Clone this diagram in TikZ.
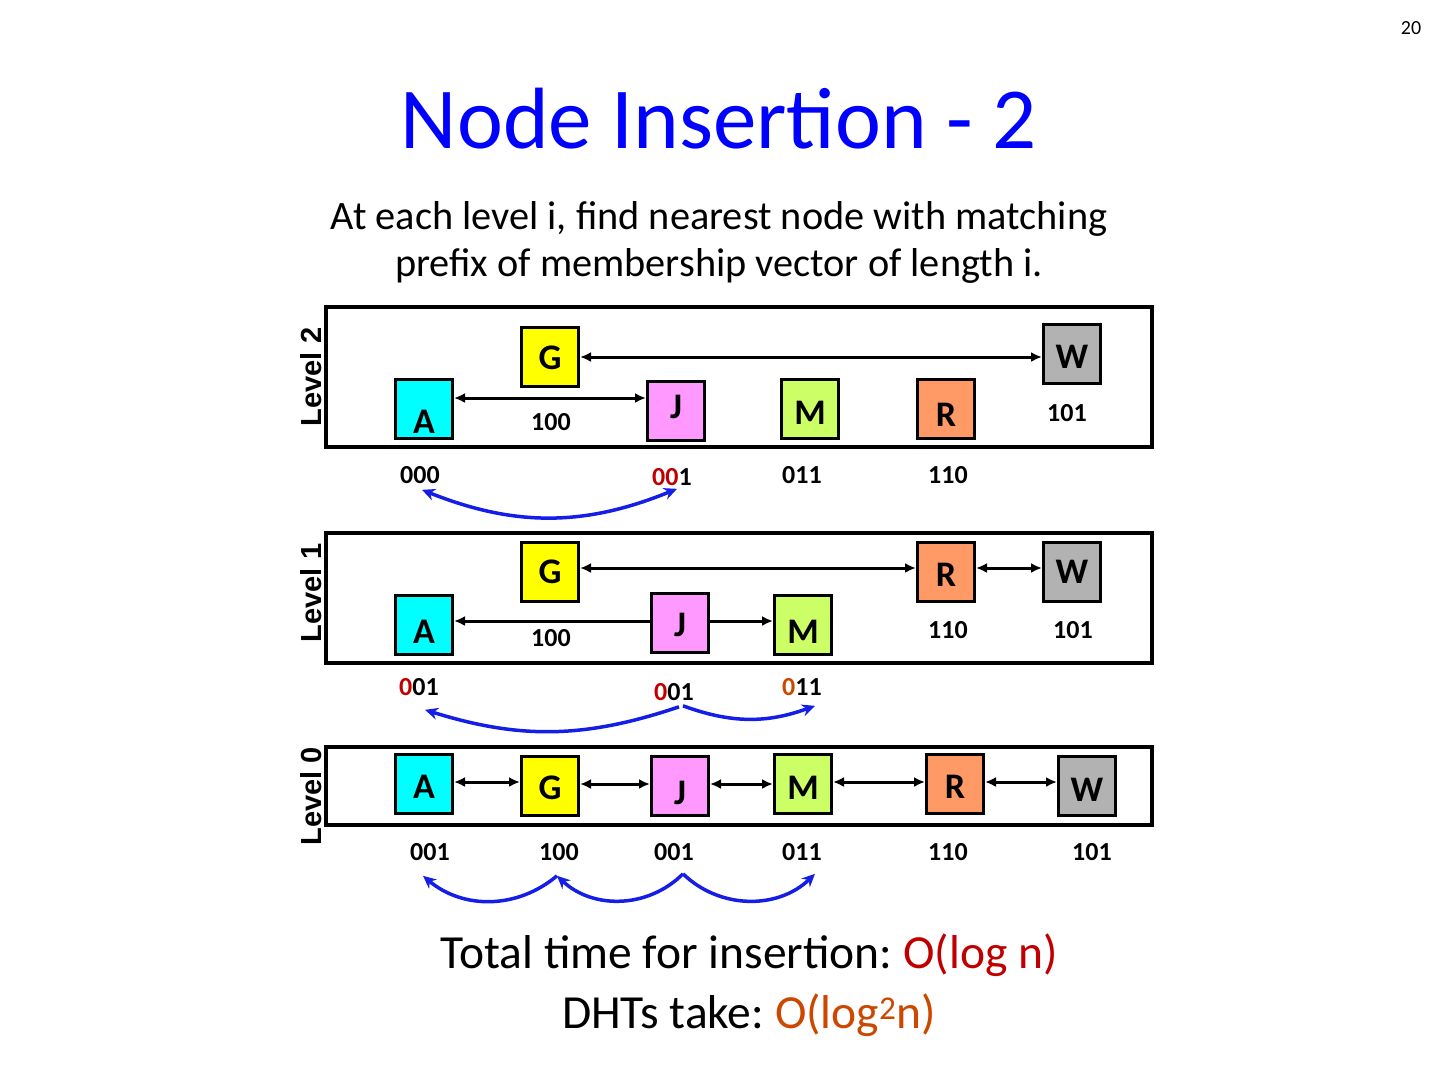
\documentclass[tikz,border=0pt]{standalone}
\usepackage{fontspec}
\setmainfont{Carlito}
\newfontfamily\arialfont{Liberation Sans}
\usepackage{xcolor}
\usetikzlibrary{arrows.meta, positioning}

\definecolor{titleblue}{RGB}{0,0,255}
\definecolor{hopblue}{RGB}{20,30,230}
\definecolor{vecred}{RGB}{192,0,0}
\definecolor{vecorange}{RGB}{204,72,0}
\definecolor{peerA}{RGB}{0,255,255}
\definecolor{peerG}{RGB}{255,255,0}
\definecolor{peerJ}{RGB}{255,153,255}
\definecolor{peerM}{RGB}{204,255,102}
\definecolor{peerR}{RGB}{255,153,102}
\definecolor{peerW}{RGB}{178,178,178}

\begin{document}
\begin{tikzpicture}[
  x=1pt, y=-1pt,
  >={Stealth[length=13pt, width=12pt]},
  peer/.style={rectangle, draw=black, line width=3pt, minimum width=57pt, minimum height=59pt, inner sep=0pt},
  peerlbl/.style={font=\fontsize{36}{38}\selectfont\bfseries, inner sep=0pt},
  vec/.style={font=\fontsize{26}{28}\selectfont\bfseries, inner sep=1pt},
  lvlbox/.style={draw=black, line width=3.2pt},
  lvlname/.style={rotate=90, font=\fontsize{29}{30}\selectfont\arialfont\bfseries},
  link/.style={{Latex[length=11pt, width=10pt]}-{Latex[length=11pt, width=10pt]}, line width=3pt},
  onelink/.style={-{Latex[length=11pt, width=10pt]}, line width=3pt},
  hop/.style={line width=3.5pt, hopblue}
]
\fill[white] (0,0) rectangle (1440,1080);

%  : -- Title and caption  : --
\node[font=\fontsize{20}{22}\selectfont, anchor=base] (pageno) at (1411,34) {20};
\node[font=\fontsize{87}{90}\selectfont, text=titleblue, anchor=base] (title) at (719,148) {Node Insertion - 2};
\node[align=center, font=\fontsize{40.3}{47}\selectfont] (caption) at (719,242) {At each level i, find nearest node with matching\\prefix of membership vector of length i.};

%  : -- Level 2  : --
\draw[lvlbox] (326,307) rectangle (1152,447);
\node[lvlname] (lvl2) at (311,377) {Level 2};
\foreach \n/\x/\y/\c/\d in {A/424/409/peerA/-13pt, G/550/357/peerG/-1pt, J/676/411/peerJ/4pt, M/810/409/peerM/-4pt, R/946/409/peerR/-6pt, W/1072/354/peerW/-3pt} {
  \node[peer, fill=\c, label={[peerlbl, yshift=\d]center:\n}] (\n2) at (\x,\y) {};
}
\draw[link] (G2.east) -- (G2.east -| W2.west);
\draw[link] ([yshift=11pt]A2.east) -- ([yshift=11pt]A2.east -| J2.west);
\node[vec] (G2v) at (551,422) {100};
\node[vec] (W2v) at (1067,413) {101};
\node[vec] (A2v) at (420,475) {000};
\node[vec] (J2v) at (672,477) {\textcolor{vecred}{00}1};
\node[vec] (M2v) at (802,475) {011};
\node[vec] (R2v) at (948,475) {110};
\draw[hop, <->] ([xshift=5pt, yshift=-2pt]J2v.south) to[bend left=22] ([xshift=2pt, yshift=-5pt]A2v.south);

%  : -- Level 1  : --
\draw[lvlbox] (326,533) rectangle (1152,663);
\node[lvlname] (lvl1) at (311,593) {Level 1};
\foreach \n/\x/\y/\c/\d in {A/424/625/peerA/-7pt, G/550/572/peerG/0pt, J/680/623/peerJ/-2pt, M/803/625/peerM/-7pt, R/946/572/peerR/-3pt, W/1072/572/peerW/0pt} {
  \node[peer, fill=\c, label={[peerlbl, yshift=\d]center:\n}] (\n1) at (\x,\y) {};
}
\draw[link] ([yshift=4pt]G1.east) -- ([yshift=4pt]G1.east -| R1.west);
\draw[link] ([yshift=4pt]R1.east) -- ([yshift=4pt]R1.east -| W1.west);
\draw[onelink] ([yshift=2pt]J1.west) -- ([yshift=2pt]J1.west -| A1.east);
\draw[onelink] ([yshift=2pt]J1.east) -- ([yshift=2pt]J1.east -| M1.west);
\node[vec] (G1v) at (551,638) {100};
\node[vec] (R1v) at (948,630) {110};
\node[vec] (W1v) at (1073,630) {101};
\node[vec] (A1v) at (419,687) {\textcolor{vecred}{0}01};
\node[vec] (J1v) at (674,692) {\textcolor{vecred}{0}01};
\node[vec] (M1v) at (802,687) {\textcolor{vecorange}{0}11};
\draw[hop, ->] ([xshift=5pt, yshift=-5pt]J1v.south) to[bend left=18] ([xshift=6pt, yshift=-13pt]A1v.south);
\draw[hop, ->] ([xshift=9pt, yshift=-4pt]J1v.south) to[bend right=20] ([xshift=13pt, yshift=-9pt]M1v.south);

%  : -- Level 0  : --
\draw[lvlbox] (326,747) rectangle (1152,825);
\node[lvlname] (lvl0) at (311,796) {Level 0};
\foreach \n/\x/\y/\c/\d in {A/424/784/peerA/-3pt, G/550/786/peerG/-2pt, J/680/786/peerJ/-7pt, M/803/784/peerM/-4pt, R/955/784/peerR/-3pt, W/1087/786/peerW/-4pt} {
  \node[peer, fill=\c, label={[peerlbl, yshift=\d]center:\n}] (\n0) at (\x,\y) {};
}
\foreach \a/\b in {A/G, G/J, J/M, M/R, R/W} {
  \draw[link] ([yshift=2pt]\a0.east) -- ([yshift=2pt]\a0.east -| \b0.west);
}
\foreach \n/\x/\v in {A/430/001, G/559/100, J/674/001, M/802/011, R/948/110, W/1092/101} {
  \node[vec] (\n0v) at (\x,852) {\v};
}
\draw[hop, ->] ([xshift=-2pt, yshift=-14pt]G0v.south) to[bend left=40] ([xshift=-7pt, yshift=-14pt]A0v.south);
\draw[hop, ->] ([xshift=9pt, yshift=-12pt]J0v.south) to[bend left=44] ([xshift=-2pt, yshift=-14pt]G0v.south);
\draw[hop, ->] ([xshift=9pt, yshift=-12pt]J0v.south) to[bend right=44] ([xshift=13pt, yshift=-12pt]M0v.south);

%  : -- Cost summary  : --
\node[align=center, font=\fontsize{47.5}{60}\selectfont] (cost) at (749,985) {Total time for insertion:~\textcolor{vecred}{O(log n)}\\DHTs take:~\textcolor{vecorange}{O(log\textsuperscript{2}n)}};

\end{tikzpicture}
\end{document}
